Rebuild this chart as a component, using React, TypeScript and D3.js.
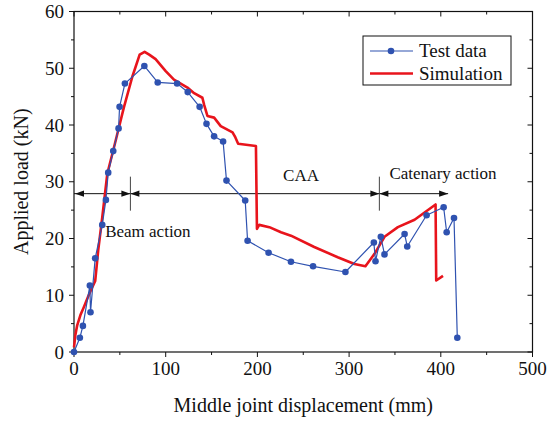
import React from "react";
import * as d3 from "d3";

const testX = [0, 6.4, 9.7, 17.3, 18, 23.1, 30.8, 34.8, 37.3, 42.8, 48.6, 49.7, 55.5, 76.7, 91.3, 112.4, 124, 137, 144.5, 152.8, 162.6, 166.3, 186.7, 189.3, 212.2, 236.6, 260.7, 296, 327, 328.8, 334.6, 338.6, 360.5, 363.4, 384.5, 403.1, 406.4, 414.4, 418];
const testY = [0, 2.5, 4.6, 11.7, 7.0, 16.5, 22.4, 26.8, 31.6, 35.4, 39.4, 43.2, 47.3, 50.4, 47.5, 47.3, 45.8, 43.2, 40.2, 38.0, 37.1, 30.2, 26.7, 19.6, 17.5, 15.9, 15.1, 14.1, 19.3, 16.0, 20.3, 17.2, 20.8, 18.6, 24.1, 25.5, 21.1, 23.6, 2.5];

const simX = [0, 1.5, 3.5, 7, 10.7, 16, 23.1, 26.4, 30.8, 36.3, 43.5, 54.4, 63.6, 71.6, 77, 82, 89, 100, 109, 123.7, 131, 140, 142, 145.5, 152.8, 160, 172.9, 176, 179, 198.4, 199.5, 202, 213, 225.7, 236.6, 262, 287.6, 305.8, 317.8, 327.7, 338.6, 353.2, 371.4, 394.3, 395, 402.4];
const simY = [0.8, 3.0, 4.7, 6.5, 7.9, 10, 12.5, 17.9, 23.7, 31.4, 36.0, 43.1, 48.5, 52.4, 52.9, 52.4, 51.6, 49.5, 48.0, 46.6, 45.6, 44.8, 43.5, 41.6, 41.3, 39.8, 38.7, 37.8, 36.7, 36.3, 21.7, 22.4, 22.0, 21.1, 20.5, 18.5, 16.7, 15.5, 15.1, 17.3, 20.3, 22.0, 23.3, 26.0, 12.6, 13.4];

const xTicks = [0, 100, 200, 300, 400, 500];
const yTicks = [0, 10, 20, 30, 40, 50, 60];
const xMinor = [50, 150, 250, 350, 450];
const yMinor = [5, 15, 25, 35, 45, 55];

const phaseBounds = [0, 61.5, 333, 408];
const phaseY = 27.9;
const phaseLabels = ["Beam action", "CAA", "Catenary action"];
const phaseLabelPos = [[34, 20.3], [247.6, 30.2], [344, 30.5]];

const seriesNames = ["Test data", "Simulation"];

const BLUE = "#2f52b0";
const RED = "#e8141c";
const FF = "Liberation Serif";
const TS = { fontFamily: '"Liberation Serif"' };

export default function App() {
  const x = d3.scaleLinear().domain([0, 500]).range([74, 532.5]);
  const y = d3.scaleLinear().domain([0, 60]).range([352, 11.5]);

  const testPts: [number, number][] = testX.map((v, i) => [x(v), y(testY[i])]);
  const simPts: [number, number][] = simX.map((v, i) => [x(v), y(simY[i])]);
  const lg = d3.line();

  const x0 = x(0), x1 = x(500), y0 = y(0), y1 = y(60);
  const yA = y(phaseY);

  const arrow = (tipX: number, dir: number, key: string) => {
    const L = 9, W = 3.2;
    const p = `M${tipX},${yA} L${tipX - dir * L},${yA - W} L${tipX - dir * L},${yA + W} Z`;
    return <path key={key} d={p} fill="#111" />;
  };

  return (
    <svg width={550} height={423} style={{ position: "absolute", left: 0, top: 0, background: "#fff" }}>
      <style>{`text { font-family: "Liberation Serif"; }`}</style>
      <rect x={x0} y={y1} width={x1 - x0} height={y0 - y1} fill="none" stroke="#111" strokeWidth={1.2} />
      {xTicks.map((t) => (
        <g key={"xb" + t}>
          <line x1={x(t)} x2={x(t)} y1={y0} y2={y0 + 5} stroke="#111" strokeWidth={1} />
          <line x1={x(t)} x2={x(t)} y1={y1} y2={y1 + 5} stroke="#111" strokeWidth={1} />
          <text x={x(t)} y={y0 + 23} textAnchor="middle" fontSize={19} fill="#111" fontFamily={FF} style={TS}>{String(t)}</text>
        </g>
      ))}
      {xMinor.map((t) => (
        <g key={"xm" + t}>
          <line x1={x(t)} x2={x(t)} y1={y0} y2={y0 + 3} stroke="#111" strokeWidth={1} />
          <line x1={x(t)} x2={x(t)} y1={y1} y2={y1 + 3} stroke="#111" strokeWidth={1} />
        </g>
      ))}
      {yTicks.map((t) => (
        <g key={"yt" + t}>
          <line x1={x0} x2={x0 - 5} y1={y(t)} y2={y(t)} stroke="#111" strokeWidth={1} />
          <line x1={x1} x2={x1 - 5} y1={y(t)} y2={y(t)} stroke="#111" strokeWidth={1} />
          <text x={x0 - 10} y={y(t) + 6.5} textAnchor="end" fontSize={19} fill="#111" fontFamily={FF} style={TS}>{String(t)}</text>
        </g>
      ))}
      {yMinor.map((t) => (
        <g key={"ym" + t}>
          <line x1={x0} x2={x0 - 3} y1={y(t)} y2={y(t)} stroke="#111" strokeWidth={1} />
          <line x1={x1} x2={x1 - 3} y1={y(t)} y2={y(t)} stroke="#111" strokeWidth={1} />
        </g>
      ))}
      <text x={(x0 + x1) / 2} y={412} textAnchor="middle" fontSize={20} fill="#111" fontFamily={FF} style={TS}>Middle joint displacement (mm)</text>
      <text transform={`translate(28,${(y0 + y1) / 2}) rotate(-90)`} textAnchor="middle" fontSize={20} fill="#111" fontFamily={FF} style={TS}>Applied load (kN)</text>

      <line x1={x(phaseBounds[0])} x2={x(phaseBounds[3])} y1={yA} y2={yA} stroke="#111" strokeWidth={1} />
      {[1, 2].map((i) => (
        <line key={"sep" + i} x1={x(phaseBounds[i])} x2={x(phaseBounds[i])} y1={yA - 17} y2={yA + 17} stroke="#444" strokeWidth={1} />
      ))}
      {[0, 1, 2].map((i) => [
        arrow(x(phaseBounds[i]) + (i === 0 ? 1 : 0), -1, "al" + i),
        arrow(x(phaseBounds[i + 1]), 1, "ar" + i),
      ])}
      {phaseLabels.map((s, i) => (
        <text key={s} x={x(phaseLabelPos[i][0])} y={y(phaseLabelPos[i][1])} textAnchor={i === 1 ? "middle" : "start"} fontSize={17} fill="#111" fontFamily={FF} style={TS}>{s}</text>
      ))}

      <path d={lg(simPts) || ""} fill="none" stroke={RED} strokeWidth={2.6} strokeLinejoin="round" />
      <path d={lg(testPts) || ""} fill="none" stroke={BLUE} strokeWidth={1.2} strokeLinejoin="round" />
      {testPts.map((p, i) => (
        <circle key={"tp" + i} cx={p[0]} cy={p[1]} r={3.3} fill={BLUE} />
      ))}

      <rect x={363} y={36} width={148} height={49} fill="#fff" stroke="#111" strokeWidth={1} />
      <line x1={370} x2={413} y1={51} y2={51} stroke={BLUE} strokeWidth={1.2} />
      <circle cx={391} cy={51} r={3.3} fill={BLUE} />
      <text x={419} y={57} fontSize={19} fill="#111" fontFamily={FF} style={TS}>{seriesNames[0]}</text>
      <line x1={370} x2={413} y1={73.5} y2={73.5} stroke={RED} strokeWidth={2.6} />
      <text x={419} y={79.5} fontSize={19} fill="#111" fontFamily={FF} style={TS}>{seriesNames[1]}</text>
    </svg>
  );
}
